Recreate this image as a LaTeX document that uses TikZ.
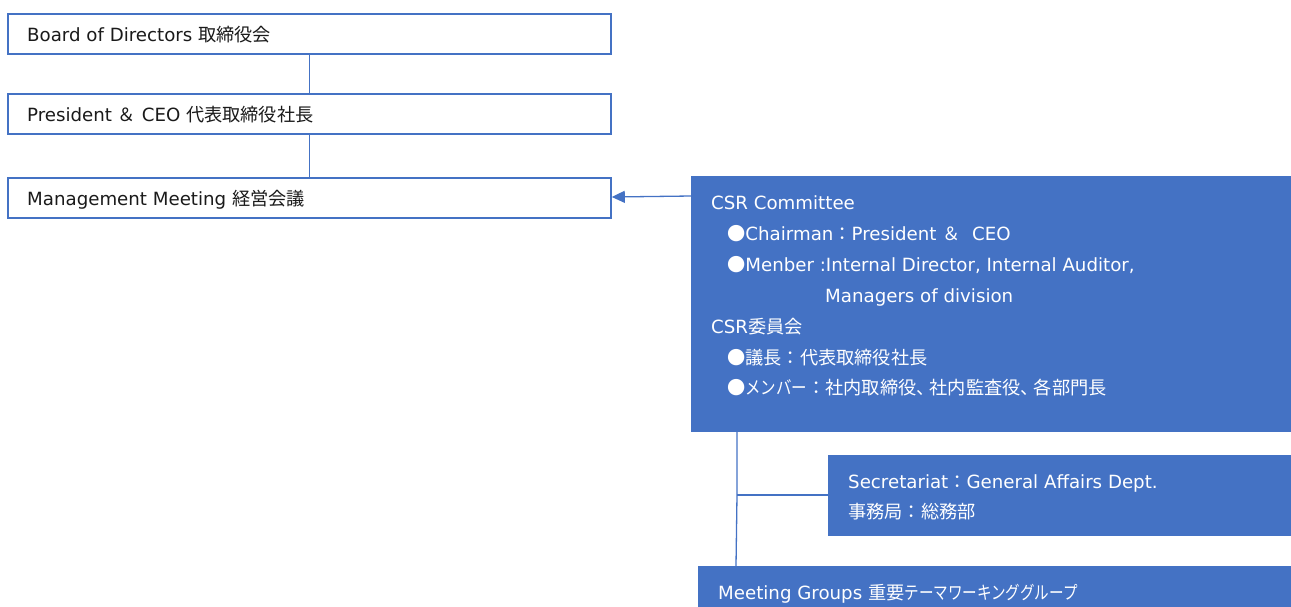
\documentclass[tikz,border=0pt]{standalone}
\usepackage{fontspec}
\usepackage{graphicx}
\setmainfont{DejaVu Sans}
\newfontfamily\cjk{Noto Sans CJK JP}
\usetikzlibrary{arrows.meta}
\definecolor{accent}{HTML}{4472C4}
\definecolor{ink}{HTML}{1A1A1A}
\newcommand{\jp}[1]{{\cjk #1}}
\newcommand{\kana}[2][0.85]{\scalebox{#1}[1]{\cjk #2}}
\tikzset{
  x=1pt,y=-1pt,
  wbox/.style={draw=accent,line width=1.8pt,fill=white,anchor=north west,inner sep=0pt,
    minimum width=603pt,minimum height=40pt},
  bbox/.style={fill=accent,draw=none,anchor=north west,inner sep=0pt},
  wtext/.style={anchor=base west,inner sep=0pt,font=\fontsize{18.2}{18}\selectfont,text=ink},
  btext/.style={anchor=base west,inner sep=0pt,font=\fontsize{18.2}{18}\selectfont,text=white},
  link/.style={draw=accent,line width=1.3pt},
}
\begin{document}
\begin{tikzpicture}
\useasboundingbox (0,0) rectangle (1291,606);
% white boxes
\node[wbox] (board) at (7,13) {};
\node[wbox] (pres) at (7,93) {};
\node[wbox] (mgmt) at (7,177) {};
\node[wtext] (tboard) at (27,41) {Board of Directors \jp{取締役会}};
\node[wtext] (tpres) at (27,121) {President \jp{＆} CEO \jp{代表取締役社長}};
\node[wtext] (tmgmt) at (27,205) {Management Meeting \jp{経営会議}};
\draw[link] (board.south) -- (pres.north);
\draw[link] (pres.south) -- (mgmt.north);
% blue boxes
\node[bbox,minimum width=600pt,minimum height=256pt] (csr) at (691,176) {};
\node[bbox,minimum width=463pt,minimum height=81pt] (sec) at (828,455) {};
\node[bbox,minimum width=593pt,minimum height=50pt] (meet) at (698,566) {};
% connectors
\draw[link,-{Triangle[length=13pt,width=12pt]}] (csr.west|-0,196) -- (mgmt.east|-0,197);
\coordinate (vtop) at (737,432);
\coordinate (vmid) at (737,495);
\coordinate (vbot) at (736,566);
\draw[link] (vtop) -- (vmid) -- (vbot);
\draw[link] (vmid) -- (sec.west|-vmid);
% CSR text
\node[btext] (c1) at (711,209) {CSR Committee};
\node[btext] (c2) at (727,240) {\jp{●}Chairman\jp{：}President \jp{＆}\ \ CEO};
\node[btext] (c3) at (727,271) {\jp{●}Menber :Internal Director, Internal Auditor,};
\node[btext] (c4) at (825,302) {Managers of division};
\node[btext] (c5) at (711,333) {CSR\jp{委員会}};
\node[btext] (c6) at (727,364) {\jp{●議長：代表取締役社長}};
\node[btext] (c7) at (727,394) {\jp{●}\kana{メンバー}\jp{：社内取締役、\kern-5pt社内監査役、\kern-5pt各部門長}};
% secretariat text
\node[btext] (s1) at (848,488) {Secretariat\jp{：}General Affairs Dept.};
\node[btext] (s2) at (848,518) {\jp{事務局：総務部}};
% meeting text
\node[btext] (m1) at (718,599) {Meeting Groups \jp{重要}\kana[0.8]{テーマワーキンググループ}};
\end{tikzpicture}
\end{document}
